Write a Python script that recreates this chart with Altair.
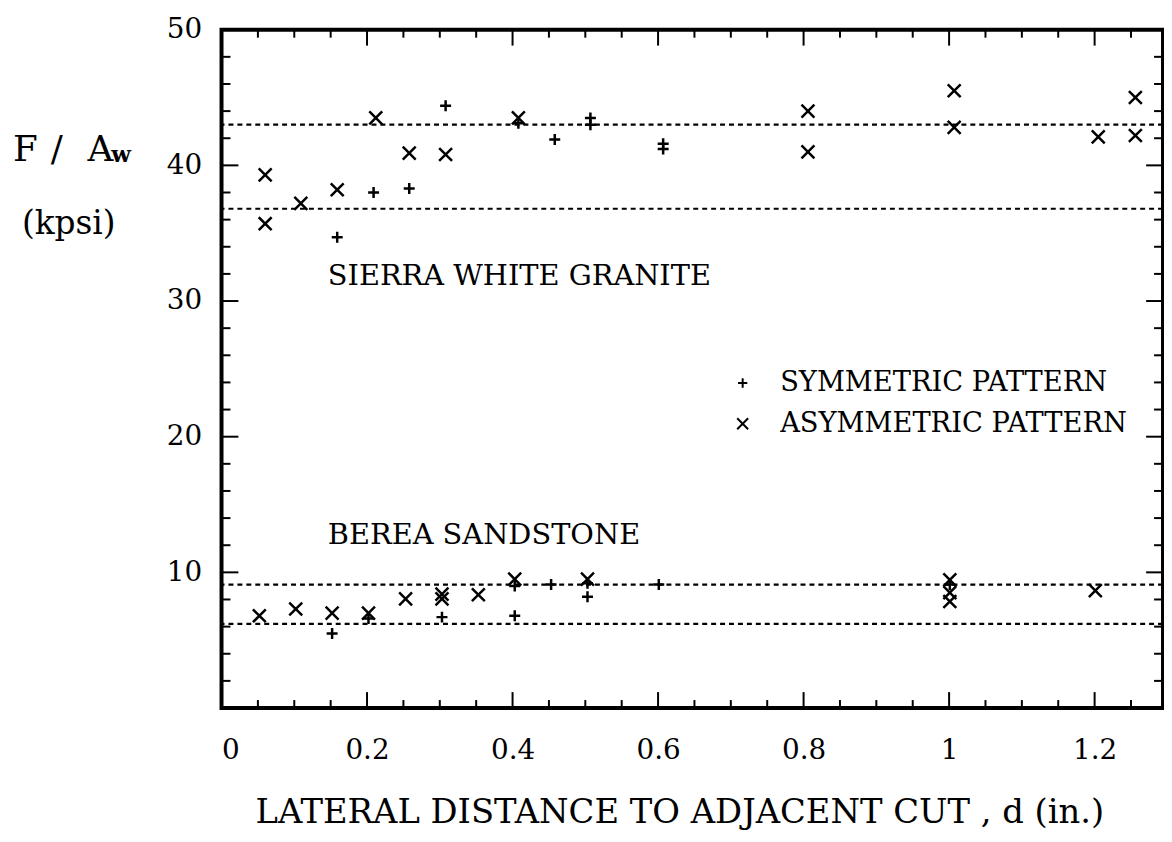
import altair as alt
import pandas as pd

# ---------------- data ----------------
granite_sym_x = [0.159, 0.209, 0.258, 0.308, 0.408, 0.458, 0.507, 0.507, 0.607, 0.607]
granite_sym_y = [34.7, 38.0, 38.3, 44.4, 43.1, 41.9, 43.5, 43.0, 41.6, 41.2]
granite_asym_x = [0.060, 0.060, 0.109, 0.159, 0.212, 0.258, 0.308, 0.408,
                  0.806, 0.806, 1.007, 1.007, 1.205, 1.256, 1.256]
granite_asym_y = [39.3, 35.7, 37.2, 38.2, 43.5, 40.9, 40.8, 43.5,
                  44.0, 41.0, 45.5, 42.8, 42.1, 45.0, 42.2]
sand_sym_x = [0.152, 0.202, 0.303, 0.403, 0.403, 0.453, 0.503, 0.503, 0.601, 1.001]
sand_sym_y = [5.5, 6.6, 6.7, 9.0, 6.8, 9.1, 9.2, 8.2, 9.1, 9.1]
sand_asym_x = [0.052, 0.102, 0.152, 0.202, 0.253, 0.303, 0.303, 0.353, 0.403,
               0.503, 1.001, 1.001, 1.001, 1.201]
sand_asym_y = [6.8, 7.3, 7.0, 7.0, 8.05, 8.4, 8.05, 8.35, 9.5,
               9.5, 9.45, 8.5, 7.85, 8.65]

ref_lines = [43.0, 36.8, 9.1, 6.2]

patterns = ["SYMMETRIC PATTERN", "ASYMMETRIC PATTERN"]
annotations = ["SIERRA WHITE GRANITE", "BEREA SANDSTONE"]
x_title = "LATERAL DISTANCE TO ADJACENT CUT , d (in.)"

x_label_values = [0, 0.2, 0.4, 0.6, 0.8, 1.0, 1.2]
y_label_values = [10, 20, 30, 40, 50]
x_major_ticks = [0.2, 0.4, 0.6, 0.8, 1.0, 1.2]
x_minor_ticks = [0.05, 0.1, 0.15, 0.25, 0.3, 0.35, 0.45, 0.5, 0.55, 0.65, 0.7, 0.75,
                 0.85, 0.9, 0.95, 1.05, 1.1, 1.15, 1.25]
y_major_ticks = [10, 20, 30, 40]
y_minor_ticks = [2, 4, 6, 8, 12, 14, 16, 18, 22, 24, 26, 28, 32, 34, 36, 38, 42, 44, 46, 48]

# ---------------- build tables ----------------
rows = []
for xs, ys, p in [(granite_sym_x, granite_sym_y, patterns[0]),
                  (granite_asym_x, granite_asym_y, patterns[1]),
                  (sand_sym_x, sand_sym_y, patterns[0]),
                  (sand_asym_x, sand_asym_y, patterns[1])]:
    for a, b in zip(xs, ys):
        rows.append({"d": a, "v": b, "pattern": p})
pts = pd.DataFrame(rows)

W, H = 948, 683
FONT = "DejaVu Serif"
xs_scale = alt.Scale(domain=[0, 1.294], nice=False, zero=False)
ys_scale = alt.Scale(domain=[0, 50], nice=False, zero=False)

x_axis = alt.Axis(values=x_label_values, format="~g", ticks=False, domain=False, grid=False,
                  tickSize=0, labelPadding=29, labelFont=FONT, labelFontSize=28,
                  labelColor="black", title=x_title, titleFont=FONT, titleFontSize=34,
                  titleFontWeight="normal", titleColor="black", titleX=461, titleY=115,
                  titleAlign="center", titleBaseline="alphabetic")
y_axis = alt.Axis(values=y_label_values, ticks=False, domain=False, grid=False, tickSize=0,
                  labelPadding=20, labelFont=FONT, labelFontSize=28, labelColor="black",
                  title=None)

PLUS = "M-0.85,0L0.85,0M0,-0.85L0,0.85"
CROSS = "M-1,-1L1,1M-1,1L1,-1"

points = alt.Chart(pts).mark_point(filled=False, color="black", strokeWidth=2.5, size=169, opacity=1).encode(
    x=alt.X("d:Q", scale=xs_scale, axis=x_axis),
    y=alt.Y("v:Q", scale=ys_scale, axis=y_axis),
    shape=alt.Shape("pattern:N",
                    scale=alt.Scale(domain=patterns, range=[PLUS, CROSS]),
                    legend=alt.Legend(title=None, orient="none", legendX=511, legendY=342,
                                      labelFont=FONT, labelFontSize=27.5, labelColor="black",
                                      labelLimit=600,
                                      symbolSize=121, symbolStrokeWidth=2, symbolStrokeColor="black",
                                      symbolFillColor="transparent", rowPadding=12, labelOffset=24,
                                      padding=0)),
)

refs = alt.Chart(pd.DataFrame({"v": ref_lines})).mark_rule(
    color="black", strokeWidth=2.2, strokeDash=[5, 4]).encode(
    y=alt.Y("v:Q", scale=ys_scale, axis=y_axis))


def xticks(vals, length, top):
    df = pd.DataFrame({"d": vals})
    if top:
        return alt.Chart(df).mark_rule(color="black", strokeWidth=2).encode(
            x=alt.X("d:Q", scale=xs_scale, axis=x_axis), y=alt.value(0), y2=alt.value(length))
    return alt.Chart(df).mark_rule(color="black", strokeWidth=2).encode(
        x=alt.X("d:Q", scale=xs_scale, axis=x_axis), y=alt.value(H), y2=alt.value(H - length))


def yticks(vals, length, right):
    df = pd.DataFrame({"v": vals})
    if right:
        return alt.Chart(df).mark_rule(color="black", strokeWidth=2).encode(
            y=alt.Y("v:Q", scale=ys_scale, axis=y_axis), x=alt.value(W), x2=alt.value(W - length))
    return alt.Chart(df).mark_rule(color="black", strokeWidth=2).encode(
        y=alt.Y("v:Q", scale=ys_scale, axis=y_axis), x=alt.value(0), x2=alt.value(length))


tick_layers = [
    xticks(x_major_ticks, 16, False), xticks(x_minor_ticks, 8, False),
    xticks(x_major_ticks, 16, True), xticks(x_minor_ticks, 8, True),
    yticks(y_major_ticks, 17, False), yticks(y_minor_ticks, 9, False),
    yticks(y_major_ticks, 17, True), yticks(y_minor_ticks, 9, True),
]


def label(text, x, y, size, weight="normal"):
    return alt.Chart(pd.DataFrame({"t": [text]})).mark_text(
        align="left", baseline="alphabetic", font=FONT, fontSize=size, fontWeight=weight,
        color="black").encode(x=alt.value(x), y=alt.value(y), text="t:N")


texts = [
    label(annotations[0], 107, 257, 29),
    label(annotations[1], 107, 518, 29),
    label("F", -210, 132, 36),
    label("/", -172, 132, 36),
    label("A", -135, 132, 36),
    label("w", -111, 133, 23, "bold"),
    label("(kpsi)", -201, 206, 33),
]

chart = alt.layer(points, refs, *tick_layers, *texts).properties(
    width=W, height=H,
    autosize=alt.AutoSizeParams(type="none"),
    padding={"left": 215, "top": 19, "right": 1, "bottom": 124},
).configure_view(stroke="black", strokeWidth=4)

chart.save("out.html", embed_options={"renderer": "svg", "actions": False})
